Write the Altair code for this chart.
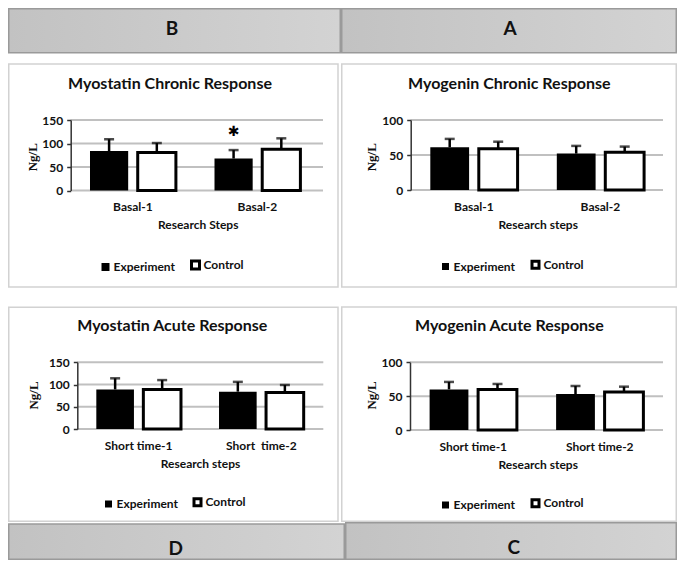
import altair as alt
import pandas as pd

SERIES = ["Experiment", "Control"]
SERIES_FILL = ["#000000", "#ffffff"]

# ---- Panel B : Myostatin chronic ----
b_title = "Myostatin Chronic Response"
b_steps = ["Basal-1", "Basal-2"]
b_exp = [84, 68]
b_exp_err = [25, 18]
b_ctrl = [81, 88]
b_ctrl_err = [20, 23]
b_ticks = [0, 50, 100, 150]
b_xtitle = "Research Steps"
b_star = [("Basal-2", "Experiment", 124)]

# ---- Panel A : Myogenin chronic ----
a_title = "Myogenin Chronic Response"
a_steps = ["Basal-1", "Basal-2"]
a_exp = [61, 52]
a_exp_err = [12, 11]
a_ctrl = [59, 54]
a_ctrl_err = [10, 8]
a_ticks = [0, 50, 100]
a_xtitle = "Research steps"

# ---- Panel D : Myostatin acute ----
d_title = "Myostatin Acute Response"
d_steps = ["Short time-1", "Short \u00a0time-2"]
d_exp = [89, 84]
d_exp_err = [25, 22]
d_ctrl = [89, 82]
d_ctrl_err = [21, 17]
d_ticks = [0, 50, 100, 150]
d_xtitle = "Research steps"

# ---- Panel C : Myogenin acute ----
c_title = "Myogenin Acute Response"
c_steps = ["Short time-1", "Short time-2"]
c_exp = [60, 53]
c_exp_err = [11, 12]
c_ctrl = [60, 56]
c_ctrl_err = [8, 8]
c_ticks = [0, 50, 100]
c_xtitle = "Research steps"

FONT = "Lato"
ONE = pd.DataFrame({"k": [0]})


def letter_cell(letter, w, h, rx0, rx1, ry0, ry1, tx, ty):
    grad = alt.LinearGradient(
        gradient="linear",
        stops=[alt.GradientStop(color="#c2c2c2", offset=0),
               alt.GradientStop(color="#d3d3d3", offset=1)],
        x1=0, x2=1, y1=0, y2=0)
    box = alt.Chart(ONE).mark_rect(fill=grad, stroke="#9a9a9a", strokeWidth=1.5).encode(
        x=alt.value(rx0), x2=alt.value(rx1), y=alt.value(ry0), y2=alt.value(ry1))
    txt = alt.Chart(pd.DataFrame({"t": [letter]})).mark_text(
        font=FONT, fontWeight="bold", fontSize=19, color="#111111").encode(
        text="t:N", x=alt.value(tx), y=alt.value(ty))
    return alt.layer(box, txt).properties(width=w, height=h)


def panel(title, steps, exp, exp_err, ctrl, ctrl_err, ticks, xtitle, g, star=None):
    rows = []
    for i, s in enumerate(steps):
        rows.append({"step": s, "series": "Experiment", "value": exp[i], "err": exp_err[i]})
        rows.append({"step": s, "series": "Control", "value": ctrl[i], "err": ctrl_err[i]})
    df = pd.DataFrame(rows)
    df["hi"] = df["value"] + df["err"]

    w, h = g["w"], g["h"]
    xs = alt.Scale(domain=steps, range=g["xr"], paddingInner=0.31, paddingOuter=0.155)
    ys = alt.Scale(domain=[0, ticks[-1]], range=[g["base"], g["top"]], nice=False)
    xo = alt.XOffset("series:N", scale=alt.Scale(domain=SERIES, paddingInner=0.2, paddingOuter=0))

    yaxis = alt.Axis(
        orient="left", offset=-g["ax"], values=ticks, grid=False, zindex=1,
        domain=True, domainColor="#333333", domainWidth=1.5,
        ticks=True, tickColor="#333333", tickWidth=1.5, tickSize=4,
        labelFont=FONT, labelFontWeight="bold", labelFontSize=12, labelColor="#111111",
        labelPadding=4,
        title="Ng/L", titleFont="Liberation Serif", titleFontWeight="bold", titleFontSize=13,
        titleColor="#111111", titleX=g["yl"][0] - g["ax"], titleY=g["yl"][1],
        titleAngle=270, titleAlign="center", titleBaseline="middle")
    xaxis = alt.Axis(
        orient="bottom", offset=g["base"] - h, domain=False, ticks=False, tickSize=0, zindex=1,
        labelFont=FONT, labelFontWeight="bold", labelFontSize=12, labelColor="#111111",
        labelPadding=16, labelBaseline="middle", labelAngle=0,
        title=xtitle, titleFont=FONT, titleFontWeight="bold", titleFontSize=12,
        titleColor="#111111", titleX=g["xt"][0], titleY=g["xt"][1] - g["base"],
        titleAlign="center", titleBaseline="middle")

    def X():
        return alt.X("step:N", scale=xs, axis=xaxis)

    def Y(f):
        return alt.Y(f, scale=ys, axis=yaxis)

    frame = alt.Chart(ONE).mark_rect(fill="white", stroke="#d2d2d2", strokeWidth=1.5).encode(
        x=alt.value(g["fx"][0]), x2=alt.value(g["fx"][1]),
        y=alt.value(g["fy"][0]), y2=alt.value(g["fy"][1]))
    grid = alt.Chart(pd.DataFrame({"v": ticks})).mark_rule(color="#c0c0c0", strokeWidth=2).encode(
        y=Y("v:Q"), x=alt.value(g["gx"][0]), x2=alt.value(g["gx"][1]))

    legend = alt.Legend(
        orient="none", legendX=g["lg"][0], legendY=g["lg"][1], direction="horizontal",
        title=None, symbolType="square", symbolSize=g.get("ss", 49),
        symbolStrokeColor="black", symbolStrokeWidth=g.get("sw", 1.5),
        labelFont=FONT, labelFontWeight="bold", labelFontSize=12, labelColor="#111111",
        labelOffset=2, columnPadding=g.get("cp", 10), padding=0)
    bars = alt.Chart(df).mark_bar(stroke="black", strokeJoin="miter").encode(
        x=X(), xOffset=xo, y=Y("value:Q"),
        fill=alt.Fill("series:N", scale=alt.Scale(domain=SERIES, range=SERIES_FILL), legend=legend),
        strokeWidth=alt.StrokeWidth("series:N", scale=alt.Scale(domain=SERIES, range=[0, 3]), legend=None))
    stems = alt.Chart(df).mark_rule(color="black", strokeWidth=2.5).encode(
        x=X(), xOffset=xo, y=Y("value:Q"), y2="hi:Q")
    caps = alt.Chart(df).mark_tick(color="black", thickness=2.5, size=10, orient="horizontal").encode(
        x=X(), xOffset=xo, y=Y("hi:Q"))
    ttl = alt.Chart(pd.DataFrame({"t": [title]})).mark_text(
        font=FONT, fontWeight="bold", fontSize=16, color="#111111").encode(
        text="t:N", x=alt.value(g["tt"][0]), y=alt.value(g["tt"][1]))
    layers = [frame, grid, bars, stems, caps, ttl]
    if star:
        sdf = pd.DataFrame([{"step": s, "series": se, "y": v, "t": "\u2731"} for s, se, v in star])
        layers.append(alt.Chart(sdf).mark_text(font="DejaVu Sans", fontSize=14, color="black").encode(
            x=X(), xOffset=xo, y=Y("y:Q"), text="t:N"))
    return alt.layer(*layers).properties(width=w, height=h)


RES = dict(x="independent", y="independent", fill="independent",
           strokeWidth="independent", xOffset="independent")


def row(*cells):
    return alt.hconcat(*cells, spacing=0).resolve_scale(**RES).resolve_legend(
        fill="independent", strokeWidth="independent")


gB = dict(w=333, h=240, fx=(0.75, 330), fy=(4, 227), tt=(162, 24), ax=62.7, base=130.5, top=60,
          xr=[62.7, 311.7], gx=(62.7, 315), xt=(189.7, 164.3), yl=(24.7, 96.7), lg=(91.5, 199),
          ss=64, sw=0)
gA = dict(w=336, h=240, fx=(0.75, 335.25), fy=(4, 227), tt=(168.3, 24), ax=69.7, base=130, top=60,
          xr=[69.7, 322.7], gx=(69.7, 322), xt=(196.7, 164.3), yl=(30.7, 96.7), lg=(98.5, 198.5))
gD = dict(w=333, h=222, fx=(0.75, 330), fy=(7.3, 221.25), tt=(164.3, 26), ax=69.3, base=129, top=62.3,
          xr=[69.3, 314.7], gx=(69.3, 315.3), xt=(192, 163.3), yl=(25.3, 95), lg=(94.5, 196), cp=9)
gC = dict(w=336, h=222, fx=(0.75, 335.25), fy=(7, 221.25), tt=(168.3, 26), ax=69, base=130, top=62.3,
          xr=[69, 322], gx=(69, 322), xt=(196.7, 164.3), yl=(30.7, 95), lg=(98.5, 197))

row1 = row(letter_cell("B", 333, 52, 0.75, 332.25, 0.75, 44.7, 164, 21),
           letter_cell("A", 336, 52, 0.75, 335.25, 0.75, 44.7, 169, 21))
row2 = row(panel(b_title, b_steps, b_exp, b_exp_err, b_ctrl, b_ctrl_err, b_ticks, b_xtitle, gB, b_star),
           panel(a_title, a_steps, a_exp, a_exp_err, a_ctrl, a_ctrl_err, a_ticks, a_xtitle, gA))
row3 = row(panel(d_title, d_steps, d_exp, d_exp_err, d_ctrl, d_ctrl_err, d_ticks, d_xtitle, gD),
           panel(c_title, c_steps, c_exp, c_exp_err, c_ctrl, c_ctrl_err, c_ticks, c_xtitle, gC))
row4 = row(letter_cell("D", 337, 38, 0.75, 336.25, 2, 37.25, 167.7, 27),
           letter_cell("C", 332, 38, 0.75, 331.25, 0.75, 37.25, 168.8, 26))

chart = alt.vconcat(row1, row2, row3, row4, spacing=0).resolve_scale(**RES).resolve_legend(
    fill="independent", strokeWidth="independent").properties(padding=0, background="white"
).configure_view(stroke=None)

chart.save("out.html", embed_options={"renderer": "svg", "actions": False})
